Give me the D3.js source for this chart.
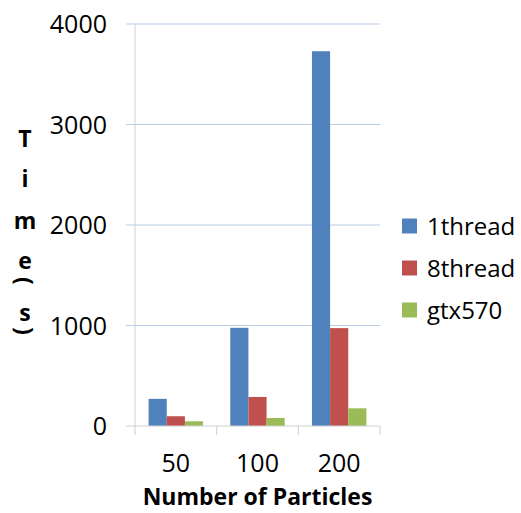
<!DOCTYPE html>
<html lang="en">
<head>
    <meta charset="UTF-8">
    <title>Times by number of particles</title>
    <script src="https://d3js.org/d3.v7.min.js"></script>
    <style>
        body { margin: 0; background: #fff; }
        svg text { font-family: "Open Sans", "DejaVu Sans", sans-serif; fill: #000; }
    </style>
</head>
<body>
    <svg id="chart"></svg>
    <script>
        const categories = ["50", "100", "200"];
        const seriesNames = ["1thread", "8thread", "gtx570"];
        const thread1 = [270, 977, 3729];
        const thread8 = [97, 289, 974];
        const gtx570 = [47, 80, 176];
        const yTicks = [0, 1000, 2000, 3000, 4000];
        const titleChars = ["T", "i", "m", "e", "(", "s", ")"];

        const colors = ["#4f81bd", "#c0504d", "#9bbb59"];
        const width = 521;
        const height = 513;
        const plot = {left: 135, right: 380, top: 24, bottom: 426};

        const svg = d3.select("#chart")
            .attr("width", width)
            .attr("height", height);

        const x = d3.scaleBand()
            .domain(categories)
            .range([plot.left, plot.right]);

        // 150% gap between groups, like the spreadsheet default
        const x1 = d3.scaleBand()
            .domain(seriesNames)
            .range([0, x.bandwidth()])
            .paddingOuter(0.75)
            .paddingInner(0);

        const y = d3.scaleLinear()
            .domain([0, 4000])
            .range([plot.bottom, plot.top]);

        // gridlines (with the little tick stub left of the axis)
        svg.append("g")
            .selectAll("line")
            .data(yTicks.filter(d => d > 0))
            .join("line")
            .attr("x1", plot.left - 9)
            .attr("x2", plot.right)
            .attr("y1", d => y(d))
            .attr("y2", d => y(d))
            .attr("stroke", "#b9cde5")
            .attr("stroke-width", 1);

        // bars
        const series = [thread1, thread8, gtx570];
        const group = svg.append("g")
            .selectAll("g")
            .data(categories)
            .join("g")
            .attr("transform", d => `translate(${x(d)},0)`);

        group.selectAll("rect")
            .data((c, i) => seriesNames.map((s, k) => ({name: s, value: series[k][i], k: k})))
            .join("rect")
            .attr("x", d => x1(d.name))
            .attr("width", x1.bandwidth())
            .attr("y", d => y(d.value))
            .attr("height", d => plot.bottom - y(d.value))
            .attr("fill", d => colors[d.k]);

        // axes lines
        svg.append("line")
            .attr("x1", plot.left).attr("x2", plot.left)
            .attr("y1", plot.top).attr("y2", plot.bottom + 9)
            .attr("stroke", "#d0d0d0");

        svg.append("line")
            .attr("x1", plot.left - 9).attr("x2", plot.right)
            .attr("y1", plot.bottom).attr("y2", plot.bottom)
            .attr("stroke", "#d0d0d0");

        svg.append("g")
            .selectAll("line")
            .data(categories)
            .join("line")
            .attr("x1", d => x(d) + x.bandwidth())
            .attr("x2", d => x(d) + x.bandwidth())
            .attr("y1", plot.bottom)
            .attr("y2", plot.bottom + 9)
            .attr("stroke", "#d0d0d0");

        // y tick labels
        svg.append("g")
            .selectAll("text")
            .data(yTicks)
            .join("text")
            .attr("x", 107)
            .attr("y", d => y(d))
            .attr("dy", "0.36em")
            .attr("text-anchor", "end")
            .style("font-size", "25px")
            .text(d => d);

        // x tick labels
        svg.append("g")
            .selectAll("text")
            .data(categories)
            .join("text")
            .attr("x", d => x(d) + x.bandwidth() / 2)
            .attr("y", 472)
            .attr("text-anchor", "middle")
            .style("font-size", "25px")
            .text(d => d);

        // x axis title
        svg.append("text")
            .attr("x", (plot.left + plot.right) / 2)
            .attr("y", 505)
            .attr("text-anchor", "middle")
            .style("font-size", "23px")
            .style("font-weight", "bold")
            .text("Number of Particles");

        // y axis title, stacked letters, brackets turned on their side
        const charY = [147, 187, 229, 269, 281, 321, 331];
        svg.append("g")
            .selectAll("text")
            .data(titleChars)
            .join("text")
            .attr("text-anchor", "middle")
            .attr("dominant-baseline", d => (d === "(" || d === ")") ? "central" : "auto")
            .attr("transform", (d, i) => (d === "(" || d === ")")
                ? `translate(25,${charY[i]}) rotate(90)`
                : `translate(25,${charY[i]})`)
            .style("font-size", "23px")
            .style("font-weight", "bold")
            .text(d => d);

        // legend
        const legend = svg.append("g")
            .selectAll("g")
            .data(seriesNames)
            .join("g")
            .attr("transform", (d, i) => `translate(402,${226 + i * 42})`);

        legend.append("rect")
            .attr("x", 0)
            .attr("y", -7.5)
            .attr("width", 15)
            .attr("height", 15)
            .attr("fill", (d, i) => colors[i]);

        legend.append("text")
            .attr("x", 25)
            .attr("dy", "0.36em")
            .style("font-size", "24px")
            .text(d => d);
    </script>
</body>
</html>
